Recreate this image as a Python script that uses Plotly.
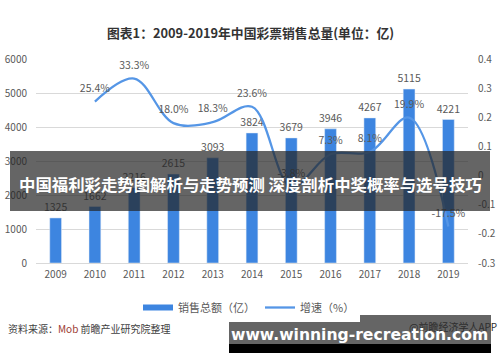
import plotly.graph_objects as go

years = ["2009", "2010", "2011", "2012", "2013", "2014", "2015", "2016", "2017", "2018", "2019"]
sales = [1325, 1662, 2216, 2615, 3093, 3824, 3679, 3946, 4267, 5115, 4221]
growth = [None, 0.254, 0.333, 0.180, 0.183, 0.236, -0.038, 0.073, 0.081, 0.199, -0.175]
right_ticks = [-0.3, -0.2, -0.1, 0, 0.1, 0.2, 0.3, 0.4]
right_ticktext = ["-0.3", "-0.2", "-0.1", "0", "0.1", "0.2", "0.3", "0.4"]

growth_labels = ["" if v is None else f"{v*100:.1f}%" for v in growth]
sales_labels = [str(v) for v in sales]

BAR = "#3d85e0"
LINE = "#5596e6"
TXT = "#595959"
FONT = "Noto Sans CJK SC, Noto Sans, sans-serif"

fig = go.Figure()
fig.add_trace(go.Bar(
    x=years, y=sales, marker_color=BAR, width=0.3,
    showlegend=False, name="销售总额（亿）", hoverinfo="x+y",
))
# bar value labels
fig.add_trace(go.Scatter(
    x=years, y=sales, mode="markers+text",
    marker=dict(size=5, color="rgba(0,0,0,0)"),
    text=sales_labels, textposition="top center",
    textfont=dict(size=10.5, color=TXT), showlegend=False, cliponaxis=False,
    hoverinfo="skip",
))
# legend proxy for bar series (wide swatch)
fig.add_trace(go.Scatter(
    x=[None], y=[None], mode="lines", line=dict(color=BAR, width=6),
    name="销售总额（亿）", showlegend=True,
))
fig.add_trace(go.Scatter(
    x=years, y=growth, mode="lines", yaxis="y2",
    line=dict(color=LINE, width=2.3, shape="spline", smoothing=1.0),
    name="增速（%）", connectgaps=False,
))
fig.add_trace(go.Scatter(
    x=years, y=growth, mode="markers+text", yaxis="y2",
    marker=dict(size=10, color="rgba(0,0,0,0)"),
    text=growth_labels, textposition="top center",
    textfont=dict(size=10.5, color=TXT), showlegend=False, cliponaxis=False,
    hoverinfo="skip",
))

def px_x(px):
    return (px - 36) / 432

def px_y(py):
    return (263 - py) / 204

shapes = [
    dict(type="rect", xref="paper", yref="paper", x0=px_x(10), x1=px_x(490),
         y0=px_y(211), y1=px_y(151), fillcolor="rgba(35,35,35,0.7)",
         line=dict(width=0), layer="above"),
    dict(type="rect", xref="paper", yref="paper", x0=px_x(229), x1=px_x(491),
         y0=px_y(344), y1=px_y(315), fillcolor="rgba(35,35,35,0.7)",
         line=dict(width=0), layer="above"),
    dict(type="rect", xref="paper", yref="paper", x0=px_x(229), x1=px_x(491),
         y0=px_y(353), y1=px_y(344), fillcolor="#000000",
         line=dict(width=0), layer="above"),
]

annotations = [
    dict(text="<b>图表1：2009-2019年中国彩票销售总量(单位：亿)</b>", xref="paper", yref="paper",
         x=px_x(250), y=px_y(32), showarrow=False, xanchor="center", yanchor="middle",
         font=dict(size=12.8, color="#333333", family=FONT)),
    dict(text="资料来源：<span style='color:#9c3b33'>Mob</span> 前瞻产业研究院整理", xref="paper", yref="paper",
         x=px_x(6), y=px_y(328), showarrow=False, xanchor="left", yanchor="middle",
         font=dict(size=10, color="#404040", family=FONT)),
    dict(text="@前瞻经济学人APP", xref="paper", yref="paper",
         x=px_x(407), y=px_y(326), showarrow=False, xanchor="left", yanchor="middle",
         font=dict(size=10, color="#2e2e2e", family=FONT)),
    dict(text="<b>中国福利彩走势图解析与走势预测 深度剖析中奖概率与选号技巧</b>", xref="paper", yref="paper",
         x=px_x(250), y=px_y(184), showarrow=False, xanchor="center", yanchor="middle",
         font=dict(size=16.4, color="#ffffff", family=FONT)),
    dict(text="<b>www.winning-recreation.com</b>", xref="paper", yref="paper",
         x=px_x(359), y=px_y(335), showarrow=False, xanchor="center", yanchor="middle",
         font=dict(size=15.6, color="#ffffff", family="DejaVu Sans, sans-serif")),
]

fig.update_layout(
    width=500, height=362,
    margin=dict(l=36, r=32, t=59, b=99, autoexpand=False),
    paper_bgcolor="white", plot_bgcolor="white",
    font=dict(family=FONT, size=10, color=TXT),
    bargap=0.7,
    xaxis=dict(type="category", range=[-0.5, 10.5], autorange=False, showgrid=False,
               showline=False, ticks="", automargin=False,
               tickfont=dict(size=10, color=TXT), ticklabelstandoff=4),
    yaxis=dict(range=[0, 6000], dtick=1000, showgrid=True, gridcolor="#d9d9d9",
               gridwidth=1, zeroline=True, zerolinecolor="#d9d9d9", zerolinewidth=1,
               automargin=False,
               tickfont=dict(size=10, color=TXT), ticklabelstandoff=8),
    yaxis2=dict(range=[-0.3, 0.4], overlaying="y", side="right", showgrid=False,
                zeroline=False, tickvals=right_ticks, ticktext=right_ticktext,
                automargin=False,
                tickfont=dict(size=10, color=TXT), ticklabelstandoff=9),
    legend=dict(orientation="h", x=px_x(249), y=px_y(293), xanchor="center", yanchor="top",
                font=dict(size=11, color=TXT), itemwidth=30, traceorder="normal"),
    shapes=shapes,
    annotations=annotations,
    showlegend=True,
)

fig.write_html("out.html", config={"displayModeBar": False},
               post_script="document.body.style.margin='0';document.body.style.overflow='hidden';")
